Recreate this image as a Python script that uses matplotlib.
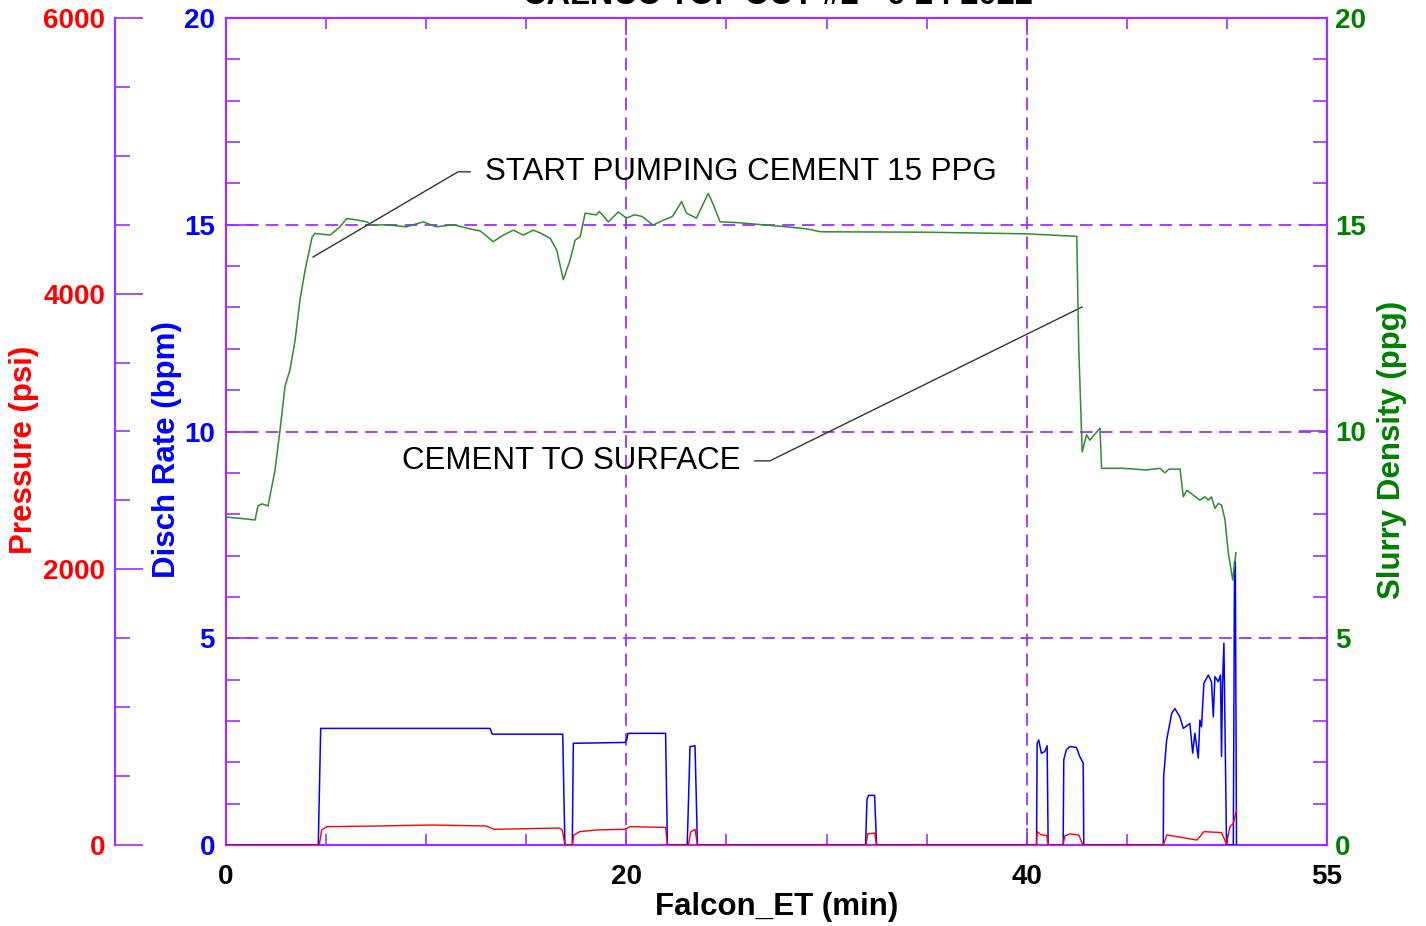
import matplotlib
matplotlib.use("Agg")
import matplotlib.pyplot as plt
from matplotlib.ticker import MultipleLocator

plt.rcParams['font.family'] = ['Liberation Sans', 'DejaVu Sans']

# ---------------- data ----------------
title_text = "CALNCC TOP OUT #2 - 9 24 2022"

rate_t = [0, 4.61, 4.73, 13.19, 13.3, 16.82, 16.93, 17.3, 17.35, 19.93, 20.03, 20.08, 21.96, 22.05,
          23.04, 23.18, 23.43, 23.55, 31.95, 32.02, 32.1, 32.4, 32.5, 40.49, 40.52, 40.6, 40.73,
          40.9, 41.02, 41.07, 41.82, 41.85, 41.98, 42.15, 42.48, 42.65, 42.82, 42.85, 46.82,
          46.84, 46.99, 47.24, 47.4, 47.65, 47.82, 48.15, 48.29, 48.4, 48.57, 48.65, 48.73, 48.85,
          49.07, 49.23, 49.32, 49.4, 49.57, 49.68, 49.73, 49.78, 49.85, 49.98, 50.32, 50.38,
          50.42, 50.48]
rate_v = [0, 0, 2.82, 2.82, 2.68, 2.68, 0, 0, 2.46, 2.48, 2.56, 2.7, 2.7, 0,
          0, 2.38, 2.4, 0, 0, 1.1, 1.2, 1.2, 0, 0, 2.46, 2.54, 2.22,
          2.26, 2.4, 0, 0, 2.06, 2.3, 2.38, 2.36, 2.14, 1.98, 0, 0,
          1.65, 2.54, 3.18, 3.3, 3.1, 2.82, 2.94, 2.22, 2.7, 2.1, 3.02, 2.86, 3.91,
          4.11, 3.95, 3.1, 4.07, 3.95, 4.11, 2.14, 3.9, 4.88, 0, 0, 6.85,
          6.85, 0]

pres_t = [0, 4.66, 4.78, 5.03, 7.7, 10.2, 13.0, 13.4, 16.65, 16.8, 16.93, 17.3, 17.38, 17.68,
          18.5, 19.93, 20.18, 21.96, 22.05, 23.1, 23.22, 23.43, 23.55, 31.97, 32.05, 32.4, 32.5,
          40.48, 40.53, 40.73, 41.0, 41.07, 41.82, 41.9, 42.15, 42.6, 42.8, 46.82, 47.0, 47.32,
          48.5, 48.65, 48.85, 49.73, 49.98, 50.15, 50.32, 50.48]
pres_v = [0, 0, 109, 133, 138, 145, 138, 114, 123, 109, 0, 0, 73, 97,
          109, 114, 133, 128, 0, 0, 97, 114, 0, 0, 80, 87, 0,
          0, 97, 73, 70, 0, 0, 65, 80, 73, 0, 0, 73, 65,
          36, 60, 97, 90, 7, 133, 157, 254]

dens_t = [0, 0.7, 1.45, 1.6, 1.8, 2.1, 2.45, 2.7, 2.95, 3.2, 3.45, 3.7, 3.95, 4.3, 4.45, 5.2,
          5.69, 6.03, 6.5, 7.03, 7.28, 7.98, 9.02, 9.85, 10.5, 11.35, 12.19, 12.7, 13.35, 13.85,
          14.35, 14.85, 15.35, 15.7, 16.2, 16.52, 16.85, 17.19, 17.44, 17.69, 17.94, 18.5, 18.65,
          19.1, 19.6, 20.0, 20.4, 20.8, 21.33, 21.8, 22.3, 22.76, 23.0, 23.5, 24.09, 24.35,
          24.68, 25.6, 28.0, 29.0, 29.7, 35.0, 40.0, 42.5, 42.6, 42.77, 42.99, 43.15, 43.3,
          43.66, 43.74, 44.8, 45.99, 46.66, 46.9, 47.1, 47.66, 47.82, 48.0, 48.65, 48.9, 49.07,
          49.23, 49.4, 49.57, 49.73, 49.9, 50.07, 50.29, 50.45]
dens_v = [7.93, 7.9, 7.86, 8.2, 8.25, 8.2, 9.07, 10.04, 11.1, 11.5, 12.2, 13.2, 13.9, 14.7, 14.79, 14.75,
          14.95, 15.15, 15.12, 15.07, 14.99, 15.0, 14.95, 15.07, 14.95, 15.0, 14.9, 14.85, 14.59, 14.75,
          14.87, 14.75, 14.87, 14.8, 14.67, 14.39, 13.67, 14.15, 14.63, 14.71, 15.28, 15.24, 15.32,
          15.07, 15.31, 15.16, 15.24, 15.2, 14.99, 15.1, 15.2, 15.56, 15.28, 15.16, 15.76, 15.48,
          15.07, 15.05, 14.95, 14.9, 14.83, 14.82, 14.78, 14.72, 12.0, 9.51, 9.92, 9.79, 9.88,
          10.08, 9.11, 9.11, 9.07, 9.11, 9.0, 9.09, 9.09, 8.42, 8.58, 8.34, 8.42, 8.34,
          8.42, 8.14, 8.26, 8.22, 7.88, 7.06, 6.41, 7.07]

note1_text = "START PUMPING CEMENT 15 PPG"
note1_line_t = [4.35, 11.59, 12.19]
note1_line_v = [14.22, 16.28, 16.28]
note1_pos = (12.95, 16.28)

note2_text = "CEMENT TO SURFACE"
note2_line_t = [42.76, 27.17, 26.42]
note2_line_v = [13.01, 9.29, 9.29]
note2_pos = (25.7, 9.29)

x_label = "Falcon_ET (min)"
rate_label = "Disch Rate (bpm)"
pres_label = "Pressure (psi)"
dens_label = "Slurry Density (ppg)"

# ---------------- style ----------------
PURPLE = '#9B30FF'
RED = '#FF0000'
BLUE = '#0000FF'
GREEN_TXT = '#007F00'
GREEN_LINE = '#2E8B2E'
TICK_FS = 20
LABEL_FS = 22.5

fig = plt.figure(figsize=(14.26, 9.26), dpi=100)
L, R, B, T = 226 / 1426, 1327 / 1426, 1 - 845 / 926, 1 - 18 / 926
ax = fig.add_axes([L, B, R - L, T - B])
ax_d = ax.twinx()
ax_p = ax.twinx()

ax.set_xlim(0, 55)
ax.set_ylim(0, 20)
ax_d.set_ylim(0, 20)
ax_p.set_ylim(0, 6000)

for a in (ax, ax_d, ax_p):
    a.set_facecolor('none')
    for s in a.spines.values():
        s.set_visible(False)

for side in ('left', 'bottom', 'top'):
    ax.spines[side].set_visible(True)
    ax.spines[side].set_color(PURPLE)
    ax.spines[side].set_linewidth(1.6)
ax_d.spines['right'].set_visible(True)
ax_d.spines['right'].set_color(PURPLE)
ax_d.spines['right'].set_linewidth(1.6)
ax_p.spines['left'].set_visible(True)
ax_p.spines['left'].set_color(PURPLE)
ax_p.spines['left'].set_linewidth(1.6)
ax_p.spines['left'].set_position(('axes', -101 / 1101 - 0.009))
ax_p.yaxis.set_ticks_position('left')
ax_p.yaxis.set_label_position('left')

# x ticks
ax.set_xticks([0, 20, 40, 55])
ax.xaxis.set_minor_locator(MultipleLocator(5))
ax.tick_params(axis='x', which='both', direction='in', top=True, bottom=True,
               color=PURPLE, width=1.2, labelsize=TICK_FS, labelcolor='black', pad=14)
ax.tick_params(axis='x', which='major', length=12)
ax.tick_params(axis='x', which='minor', length=8)
for lab in ax.get_xticklabels():
    lab.set_fontweight('bold')

# rate (left)
ax.set_yticks([0, 5, 10, 15, 20])
ax.yaxis.set_minor_locator(MultipleLocator(1))
ax.tick_params(axis='y', which='both', direction='in', left=True, right=False,
               color=PURPLE, width=1.2, labelsize=TICK_FS, labelcolor=BLUE, pad=8)
ax.tick_params(axis='y', which='major', length=20)
ax.tick_params(axis='y', which='minor', length=10)
for lab in ax.get_yticklabels():
    lab.set_fontweight('bold')

# density (right)
ax_d.set_yticks([0, 5, 10, 15, 20])
ax_d.yaxis.set_minor_locator(MultipleLocator(1))
ax_d.tick_params(axis='y', which='both', direction='in', right=True, left=False,
                 color=PURPLE, width=1.2, labelsize=TICK_FS, labelcolor=GREEN_TXT, pad=6)
ax_d.tick_params(axis='y', which='major', length=20)
ax_d.tick_params(axis='y', which='minor', length=10)
for lab in ax_d.get_yticklabels():
    lab.set_fontweight('bold')

# pressure (outer left)
ax_p.set_yticks([0, 2000, 4000, 6000])
ax_p.yaxis.set_minor_locator(MultipleLocator(500))
ax_p.tick_params(axis='y', which='both', direction='in', left=True, right=False,
                 color=PURPLE, width=1.2, labelsize=TICK_FS, labelcolor=RED, pad=7)
ax_p.tick_params(axis='y', which='major', length=20)
ax_p.tick_params(axis='y', which='minor', length=11)
for lab in ax_p.get_yticklabels():
    lab.set_fontweight('bold')

# grid
grid_kw = dict(color=PURPLE, linewidth=1.3, dashes=(7, 4))
ax.grid(True, which='major', axis='both', **grid_kw)
ax.set_axisbelow(True)

# data
ax.plot(rate_t, rate_v, color=BLUE, linewidth=1.1, zorder=5)
ax_p.plot(pres_t, pres_v, color=RED, linewidth=1.0, zorder=4)
ax_d.plot(dens_t, dens_v, color=GREEN_LINE, linewidth=1.1, zorder=4)

# annotations
ax_d.plot(note1_line_t, note1_line_v, color='#333333', linewidth=1.0)
ax_d.text(note1_pos[0], note1_pos[1], note1_text, fontsize=LABEL_FS, ha='left', va='center')
ax_d.plot(note2_line_t, note2_line_v, color='#333333', linewidth=1.0)
ax_d.text(note2_pos[0], note2_pos[1], note2_text, fontsize=LABEL_FS, ha='right', va='center')

# labels
ax.set_xlabel(x_label, fontsize=LABEL_FS, fontweight='bold', labelpad=1)
fig.text(167 / 1426, 1 - 450 / 926, rate_label, rotation=90, color=BLUE, fontsize=LABEL_FS,
         fontweight='bold', ha='center', va='center')
fig.text(24 / 1426, 1 - 450 / 926, pres_label, rotation=90, color=RED, fontsize=LABEL_FS,
         fontweight='bold', ha='center', va='center')
fig.text(1392 / 1426, 1 - 450 / 926, dens_label, rotation=90, color=GREEN_TXT, fontsize=LABEL_FS,
         fontweight='bold', ha='center', va='center')

# title (cut off at top edge as in the reference)
fig.text(778 / 1426, 1 - 4 / 926, title_text, fontsize=23.5, fontweight='bold',
         ha='center', va='baseline')

fig.savefig('out.png', dpi=100)
